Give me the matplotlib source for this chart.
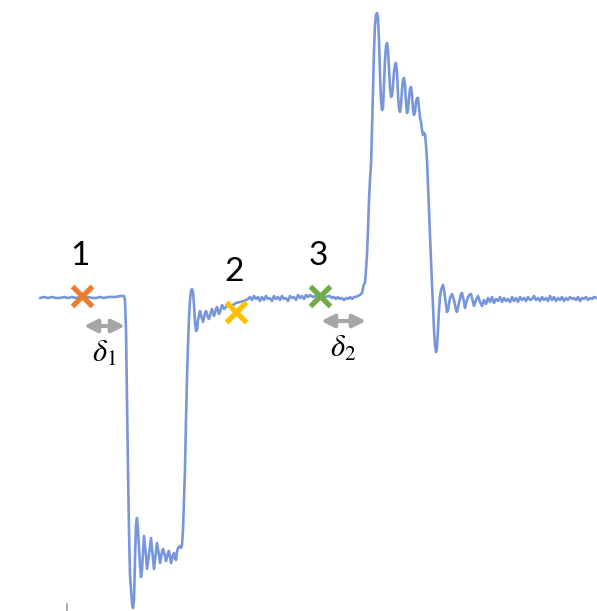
# Step response trace with sample points 1-3 and delays delta_1 / delta_2
import matplotlib.pyplot as plt

# trace (x, y in picture pixels, y grows downward)
trace_x = [40, 44, 48, 52, 56, 60, 64, 68, 72, 76, 80, 84, 88, 92, 96, 100, 104, 108, 112, 116, 120,
           122, 124, 125, 126, 127, 128, 129, 130, 132, 133, 134, 135, 136, 137, 138, 140, 141, 142,
           144, 146, 147, 149, 151, 153, 154, 156, 157, 159, 160, 162, 163, 165, 166, 168, 169, 170,
           171, 173, 174, 175, 176, 177, 178, 180, 181, 182, 183, 184, 185, 186, 187, 188, 189, 190,
           191, 192, 193, 194, 195, 196, 197, 198, 200, 201, 203, 205, 206, 208, 209, 211, 212, 213,
           214, 216, 217, 219, 220, 222, 224, 226, 228, 230, 233, 236, 240, 244, 248, 250, 252, 254,
           256, 258, 260, 262, 264, 266, 268, 270, 272, 274, 276, 278, 280, 282, 284, 286, 288, 290,
           292, 294, 296, 298, 300, 302, 304, 306, 308, 310, 313, 316, 320, 325, 330, 332, 334, 336,
           338, 340, 342, 344, 346, 348, 350, 352, 354, 356, 358, 360, 362, 363, 364, 365, 366, 367,
           368, 369, 370, 371, 372, 373, 374, 375, 376, 377, 378, 379, 380, 381, 382, 383, 384, 385,
           386, 387, 388, 389, 390, 391, 392, 393, 394, 395, 396, 397, 398, 399, 400, 401, 402, 403,
           404, 405, 406, 407, 408, 409, 410, 411, 412, 413, 414, 415, 416, 417, 418, 419, 420, 421,
           422, 423, 424, 425, 426, 427, 428, 429, 430, 431, 432, 433, 434, 435, 436, 437, 438, 439,
           440, 441, 443, 444, 446, 447, 448, 450, 452, 454, 456, 457, 459, 461, 462, 464, 465, 467,
           469, 471, 473, 474, 476, 478, 480, 482, 484, 486, 488, 490, 492, 494, 496, 498, 500, 502,
           504, 506, 508, 510, 512, 514, 516, 518, 520, 522, 524, 526, 528, 530, 532, 534, 536, 538,
           540, 542, 544, 546, 548, 550, 552, 554, 556, 558, 560, 562, 564, 566, 568, 570, 572, 574,
           576, 578, 580, 582, 584, 586, 588, 590, 592, 594, 597]
trace_y = [298, 297, 298, 297, 298, 298, 297, 298, 297, 298, 297, 298, 297, 298, 298, 297, 298, 297, 297, 297, 296,
           296, 296, 300, 330, 400, 470, 530, 575, 603, 608, 600, 560, 525, 518, 530, 565, 577, 570,
           536, 555, 569, 555, 538, 558, 569, 552, 543, 555, 563, 552, 549, 556, 561, 553, 551, 557,
           563, 555, 553, 558, 560, 552, 548, 546, 548, 545, 530, 500, 470, 420, 378, 345, 318, 300,
           291, 289, 292, 305, 322, 331, 330, 320, 311, 315, 322, 313, 311, 317, 319, 312, 309, 313,
           316, 309, 307, 314, 312, 305, 309, 307, 304, 306, 305, 303, 302, 301, 299, 297, 300, 296,
           299, 297, 301, 297, 300, 296, 299, 298, 301, 296, 299, 297, 300, 296, 299, 298, 301, 296,
           298, 297, 300, 295, 298, 296, 299, 295, 297, 295, 297, 296, 296, 297, 296, 298, 297, 299,
           297, 299, 298, 300, 298, 299, 297, 299, 297, 297, 296, 295, 293, 288, 284, 283, 270, 255,
           230, 200, 180, 165, 130, 90, 50, 25, 15, 13, 18, 40, 75, 100, 110, 108, 85, 60,
           46, 43, 50, 70, 88, 97, 96, 85, 72, 65, 63, 72, 95, 108, 112, 105, 90, 80,
           78, 85, 102, 113, 110, 98, 89, 87, 95, 110, 115, 112, 102, 98, 98, 108, 118, 122,
           130, 135, 133, 134, 145, 160, 185, 210, 235, 260, 285, 305, 330, 345, 352, 348, 330, 310,
           297, 290, 285, 290, 305, 312, 310, 298, 294, 300, 310, 312, 303, 294, 293, 302, 308, 300,
           295, 294, 302, 306, 300, 296, 302, 306, 300, 304, 298, 302, 297, 303, 299, 301, 297, 302,
           298, 301, 299, 302, 297, 301, 298, 302, 297, 300, 298, 301, 297, 300, 299, 296, 300, 298,
           301, 297, 300, 298, 301, 296, 300, 297, 301, 298, 300, 297, 301, 298, 300, 297, 299, 298,
           300, 297, 301, 298, 299, 297, 300, 298, 299, 297, 298]

# sample points
pt_labels = ['1', '2', '3']
pt_x = [82, 236, 320]
pt_y = [296, 312, 296]
pt_colors = ['#ED7D31', '#FFC000', '#70AD47']

# delay arrows: (x start, x end, y) and their labels
delays = [r'$\delta_1$', r'$\delta_2$']
delay_x0 = [84, 321]
delay_x1 = [125, 366]
delay_y = [326, 321]

plt.rcParams['mathtext.fontset'] = 'stix'

fig = plt.figure(figsize=(5.97, 6.11), dpi=100)
ax = fig.add_axes([0, 0, 1, 1])
ax.set_xlim(0, 597)
ax.set_ylim(611, 0)
ax.axis('off')

ax.plot(trace_x, trace_y, color='#7797DA', linewidth=1.9,
        solid_joinstyle='round', solid_capstyle='round')

for lab, x, y, c in zip(pt_labels, pt_x, pt_y, pt_colors):
    ax.plot(x, y, marker='x', color=c, markersize=15, markeredgewidth=3.8, zorder=5)
    ax.text(x - 2, y - 25, lab, fontsize=24, family='Lato', ha='center', va='bottom')

for lab, x0, x1, y in zip(delays, delay_x0, delay_x1, delay_y):
    ax.annotate('', xy=(x1, y), xytext=(x0, y),
                arrowprops=dict(arrowstyle='<|-|>', color='#A6A6A6', lw=3,
                                mutation_scale=19, shrinkA=0, shrinkB=0))
    ax.text((x0 + x1) / 2, y + 27, lab, fontsize=22, ha='center', va='center')

# small stray tick at the bottom edge
ax.plot([67, 67], [604, 611], color='#A0A0A0', linewidth=1.2)

fig.savefig('out.png', dpi=100)
